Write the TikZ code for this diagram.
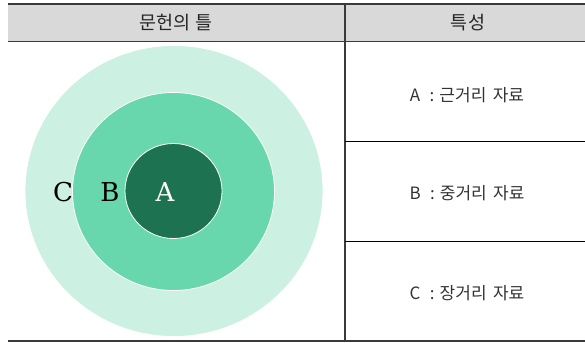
\documentclass[tikz,border=0pt]{standalone}
\usepackage{fontspec}
\usetikzlibrary{shapes.geometric}
\newfontfamily\krfont{Noto Sans CJK KR}
\newfontfamily\letterfont{DejaVu Serif}
\definecolor{rulegray}{HTML}{3A3A3A}
\definecolor{headgray}{HTML}{D9D9D9}
\definecolor{ringC}{HTML}{CCF0E1}
\definecolor{ringB}{HTML}{68D7AD}
\definecolor{ringA}{HTML}{1D7351}
\begin{document}
\begin{tikzpicture}[x=1pt,y=-1pt,
  ring/.style={ellipse,draw=white,line width=0.8pt,inner sep=0pt},
  headtxt/.style={font=\krfont\fontsize{18.5}{21}\selectfont,text=black!85},
  celltxt/.style={font=\krfont\fontsize{17}{20}\selectfont,text=black!80},
  letter/.style={font=\letterfont\fontsize{26}{29}\selectfont},
  thickrule/.style={draw=rulegray,line width=2pt},
  thinrule/.style={draw=black,line width=1pt}]
\useasboundingbox (0,0) rectangle (585,342);
% header
\fill[headgray] (8,4) rectangle (585,41.5);
% circles
\node[ring,fill=ringC,minimum width=298,minimum height=291] (outer) at (174,191) {};
\node[ring,fill=ringB,minimum width=202,minimum height=198] (middle) at (173.5,191.5) {};
\node[ring,fill=ringA,minimum width=97,minimum height=95] (inner) at (173.5,191) {};
\node[letter,text=black] (lc) at (63,192) {C};
\node[letter,text=black] (lb) at (110,192) {B};
\node[letter,text=white] (la) at (165,192) {A};
% rules
\coordinate (tl) at (8,4);
\coordinate (tr) at (585,4);
\coordinate (hl) at (8,41.5);
\coordinate (hr) at (585,41.5);
\coordinate (bl) at (8,341);
\coordinate (br) at (585,341);
\coordinate (vt) at (345,4);
\coordinate (vb) at (345,341);
\coordinate (r1l) at (345,141.5);
\coordinate (r1r) at (585,141.5);
\coordinate (r2l) at (345,241.5);
\coordinate (r2r) at (585,241.5);
\draw[thickrule] (tl) -- (tr);
\draw[draw=rulegray,line width=1.5pt] (hl) -- (hr);
\draw[thickrule] (bl) -- (br);
\draw[draw=rulegray,line width=1.8pt] (vt) -- (vb);
\draw[thinrule] (r1l) -- (r1r);
\draw[thinrule] (r2l) -- (r2r);
% texts
\node[headtxt] (h1) at (176,23) {문헌의 틀};
\node[headtxt] (h2) at (468,23) {특성};
\node[celltxt] (ca) at (467,95) {A\hspace{0.55em}:\hspace{0.3em}근거리\hspace{0.15em} 자료};
\node[celltxt] (cb) at (467,193) {B\hspace{0.55em}:\hspace{0.3em}중거리\hspace{0.15em} 자료};
\node[celltxt] (cc) at (467,293) {C\hspace{0.55em}:\hspace{0.3em}장거리\hspace{0.15em} 자료};
\end{tikzpicture}
\end{document}
